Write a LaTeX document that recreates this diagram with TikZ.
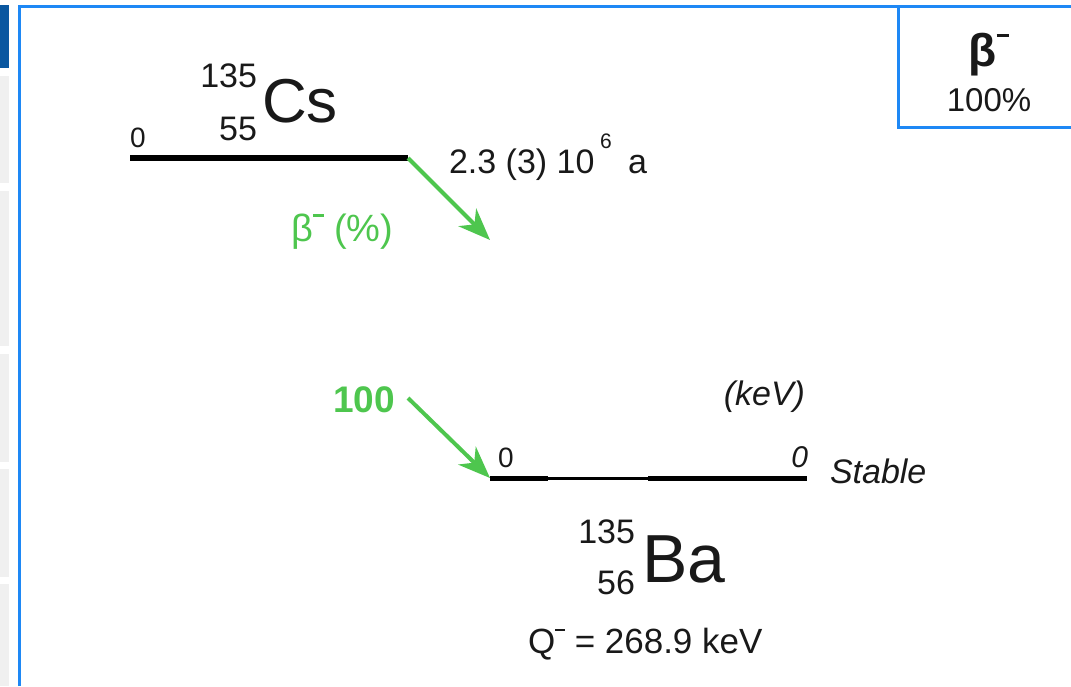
\documentclass[tikz,border=0pt]{standalone}
\usepackage{fontspec}
\setmainfont{Liberation Sans}
\usetikzlibrary{arrows.meta}
\definecolor{gr}{RGB}{78,198,78}
\definecolor{bl}{RGB}{30,136,245}
\definecolor{dbl}{RGB}{10,87,160}
\definecolor{uig}{RGB}{240,240,240}
\definecolor{tx}{RGB}{25,25,25}
\newcommand\fsz[1]{\fontsize{#1}{#1}\selectfont}
\newcommand\supminus{\raisebox{0.62em}{\rule{0.28em}{0.08em}}}
\tikzset{
  lbl/.style={inner sep=0pt, outer sep=0pt, anchor=base west, text=tx},
  lble/.style={lbl, anchor=base east},
  lvlthick/.style={line width=6pt, black},
  lvlthin/.style={line width=3pt, black},
  garrow/.style={draw=gr, line width=4pt, -{Stealth[length=32pt,width=25pt,inset=10pt]}},
  border/.style={draw=bl, line width=3pt},
}
\begin{document}
\begin{tikzpicture}[x=1pt,y=-1pt]
\useasboundingbox (0,0) rectangle (1071,686);
\fill[white] (0,0) rectangle (1071,686);
% left UI strip
\fill[dbl] (0,5) rectangle (9,68);
\fill[uig] (0,76) rectangle (9,183);
\fill[uig] (0,191) rectangle (9,346);
\fill[uig] (0,354) rectangle (9,462);
\fill[uig] (0,469) rectangle (9,577);
\fill[uig] (0,584) rectangle (9,686);
% border
\draw[border] (19,686) -- (19,6) -- (1071,6);
\draw[border] (898,6) -- (898,127) -- (1071,127);
\node[inner sep=0pt, anchor=base, text=tx, font=\fsz{46}\bfseries] (bm) at (989,66) {β\supminus};
\node[inner sep=0pt, anchor=base, text=tx, font=\fsz{33}] (bp) at (989,111) {100\%};
% Cs level
\coordinate (csL) at (130,158);
\coordinate (csR) at (408,158);
\draw[lvlthick] (csL) -- (csR);
\node[lbl, font=\fsz{28}] (cs0) at (130,147) {0};
\node[lble, font=\fsz{34}] (csA) at (257,87) {135};
\node[lble, font=\fsz{34}] (csZ) at (257,140) {55};
\node[lbl, font=\fsz{62}] (csS) at (262,122) {Cs};
\node[lbl, font=\fsz{34}] (hl) at (449,173) {2.3 (3) 10};
\node[lbl, font=\fsz{21}] (hle) at (600,148) {6};
\node[lbl, font=\fsz{34}] (hla) at (628,173) {a};
% decay arrow
\coordinate (t1) at (490,240);
\draw[garrow] (csR) -- (t1);
\node[lbl, text=gr, font=\fsz{38}] (bpct) at (291,241) {β\supminus\ (\%)};
% Ba level
\coordinate (a2s) at (408,398);
\coordinate (baL) at (490,478);
\coordinate (baA) at (548,478);
\coordinate (baB) at (648,478);
\coordinate (baR) at (807,478);
\draw[lvlthick, line width=5pt] (baL) -- (baA);
\draw[lvlthin] (baA) -- (baB);
\draw[lvlthick, line width=5pt] (baB) -- (baR);
\draw[garrow] (a2s) -- (baL);
\node[lbl, text=gr, font=\fsz{37}\bfseries] (int) at (333,412) {100};
\node[lbl, font=\fsz{28}] (ba0) at (498,467) {0};
\node[lble, font=\fsz{30}\itshape] (ba0e) at (808,467) {0};
\node[lble, font=\fsz{34}\itshape] (kev) at (805,405) {(keV)};
\node[lbl, font=\fsz{34}\itshape] (st) at (830,483) {Stable};
\node[lble, font=\fsz{34}] (baA1) at (635,543) {135};
\node[lble, font=\fsz{34}] (baZ) at (635,594) {56};
\node[lbl, font=\fsz{68}] (baS) at (642,582) {Ba};
\node[lbl, font=\fsz{35}] (q) at (528,653) {Q\supminus\ = 268.9 keV};
\end{tikzpicture}
\end{document}
